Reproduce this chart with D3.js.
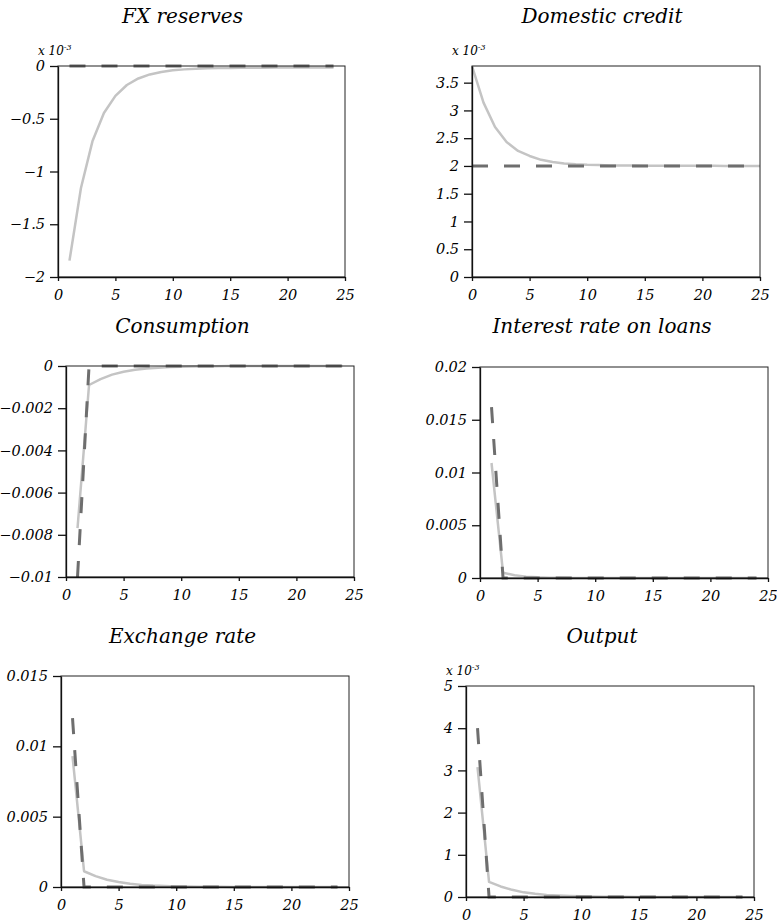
<!DOCTYPE html>
<html>
<head>
<meta charset="utf-8">
<script src="https://cdn.jsdelivr.net/npm/d3@7"></script>
<style>
  body { margin: 0; background: #fff; }
  svg { display: block; font-family: "DejaVu Serif", serif; font-style: italic; }
</style>
</head>
<body>
<div id="chart-area"></div>
<script>
// impulse responses, x = periods after shock
var periods   = [1,2,3,4,5,6,7,8,9,10,11,12,13,14,15,16,17,18,19,20,21,22,23,24];
var periodsDC = [0,1,2,3,4,5,6,7,8,9,10,11,12,13,14,15,16,17,18,19,20,21,22,23,24,25];
var xTicks = [0,5,10,15,20,25];

// FX reserves (x 10^-3)
var fxSolid  = [-1.845,-1.156,-0.714,-0.446,-0.283,-0.180,-0.118,-0.080,-0.056,-0.041,-0.032,-0.026,-0.022,-0.020,-0.018,-0.017,-0.016,-0.016,-0.015,-0.015,-0.015,-0.015,-0.015,-0.015];
var fxDashed = [0,0,0,0,0,0,0,0,0,0,0,0,0,0,0,0,0,0,0,0,0,0,0,0];
var fxTicks  = [0,-0.5,-1,-1.5,-2];

// Domestic credit (x 10^-3)
var dcSolid  = [3.80,3.14,2.70,2.43,2.27,2.18,2.11,2.07,2.045,2.03,2.02,2.015,2.01,2.008,2.006,2.005,2.004,2.003,2.003,2.002,2.002,2.002,2.001,2.001,2.001,2.001];
var dcDashed = [2,2,2,2,2,2,2,2,2,2,2,2,2,2,2,2,2,2,2,2,2,2,2,2,2,2];
var dcTicks  = [0,0.5,1,1.5,2,2.5,3,3.5];

// Consumption
var consSolid  = [-0.00768,-0.00090,-0.00062,-0.00041,-0.00027,-0.00018,-0.00012,-0.00008,-0.00005,-0.00003,-0.00002,-0.00001,-0.00001,0,0,0,0,0,0,0,0,0,0,0];
var consDashed = [-0.0100,0,0,0,0,0,0,0,0,0,0,0,0,0,0,0,0,0,0,0,0,0,0,0];
var consTicks  = [0,-0.002,-0.004,-0.006,-0.008,-0.01];

// Interest rate on loans
var rateSolid  = [0.0109,0.0005,0.00026,0.00013,0.00006,0.00003,0.00002,0.00001,0,0,0,0,0,0,0,0,0,0,0,0,0,0,0,0];
var rateDashed = [0.0162,0,0,0,0,0,0,0,0,0,0,0,0,0,0,0,0,0,0,0,0,0,0,0];
var rateTicks  = [0,0.005,0.01,0.015,0.02];

// Exchange rate
var exSolid  = [0.0093,0.00112,0.00077,0.00052,0.00035,0.00023,0.00015,0.0001,0.00007,0.00004,0.00003,0.00002,0.00001,0.00001,0,0,0,0,0,0,0,0,0,0];
var exDashed = [0.0120,0,0,0,0,0,0,0,0,0,0,0,0,0,0,0,0,0,0,0,0,0,0,0];
var exTicks  = [0,0.005,0.01,0.015];

// Output (x 10^-3)
var outSolid  = [3.08,0.36,0.25,0.17,0.11,0.075,0.05,0.033,0.022,0.015,0.01,0.007,0.005,0.003,0.002,0.001,0.001,0,0,0,0,0,0,0];
var outDashed = [4.0,0,0,0,0,0,0,0,0,0,0,0,0,0,0,0,0,0,0,0,0,0,0,0];
var outTicks  = [0,1,2,3,4,5];

var panels = [
  {title:"FX reserves", left:58, top:66, w:287, h:211, tx:182.5, ty:23, xs:periods, solid:fxSolid, dashed:fxDashed, domain:[-2,0], ticks:fxTicks, mult:true},
  {title:"Domestic credit", left:472, top:66, w:288, h:211, tx:602, ty:23, xs:periodsDC, solid:dcSolid, dashed:dcDashed, domain:[0,3.8], ticks:dcTicks, mult:true},
  {title:"Consumption", left:66, top:366, w:288, h:211, tx:182.5, ty:333, xs:periods, solid:consSolid, dashed:consDashed, domain:[-0.01,0], ticks:consTicks, mult:false},
  {title:"Interest rate on loans", left:480, top:367, w:288, h:211, tx:602, ty:333, xs:periods, solid:rateSolid, dashed:rateDashed, domain:[0,0.02], ticks:rateTicks, mult:false},
  {title:"Exchange rate", left:61, top:676, w:288, h:211, tx:182.5, ty:643, xs:periods, solid:exSolid, dashed:exDashed, domain:[0,0.015], ticks:exTicks, mult:false},
  {title:"Output", left:466, top:686, w:288, h:211, tx:602, ty:643, xs:periods, solid:outSolid, dashed:outDashed, domain:[0,5], ticks:outTicks, mult:true}
];

var svg = d3.select("#chart-area").append("svg")
  .attr("width", 777)
  .attr("height", 922);

svg.append("rect").attr("width", 777).attr("height", 922).attr("fill", "#fff");

var fmt = function(d){ return String(d).replace("-", "\u2212"); };

panels.forEach(function(p, i){
  var x = d3.scaleLinear().domain([0,25]).range([0,p.w]);
  var y = d3.scaleLinear().domain(p.domain).range([p.h,0]);

  svg.append("text")
    .attr("x", p.tx)
    .attr("y", p.ty)
    .attr("text-anchor", "middle")
    .attr("font-size", "20px")
    .attr("fill", "#000")
    .text(p.title);

  var g = svg.append("g")
    .attr("transform", "translate(" + p.left + "," + p.top + ")");

  g.append("clipPath").attr("id", "clip" + i)
    .append("rect").attr("x", -1).attr("y", -2).attr("width", p.w + 2).attr("height", p.h + 4);

  var line = d3.line()
    .x(function(d){ return x(d[0]); })
    .y(function(d){ return y(d[1]); });

  var solidPts = p.xs.map(function(v, k){ return [v, p.solid[k]]; });
  var dashPts  = p.xs.map(function(v, k){ return [v, p.dashed[k]]; });

  g.append("path")
    .attr("clip-path", "url(#clip" + i + ")")
    .attr("d", line(solidPts))
    .attr("fill", "none")
    .attr("stroke", "#c4c4c4")
    .attr("stroke-width", 2.5)
    .attr("stroke-linejoin", "round");

  g.append("path")
    .attr("clip-path", "url(#clip" + i + ")")
    .attr("d", line(dashPts))
    .attr("fill", "none")
    .attr("stroke", "#6e6e6e")
    .attr("stroke-width", 3)
    .attr("stroke-dasharray", "16,16");

  // frame
  g.append("rect")
    .attr("width", p.w)
    .attr("height", p.h)
    .attr("fill", "none")
    .attr("stroke", "#222")
    .attr("stroke-width", 1);

  var bottomAxis = d3.axisBottom(x)
    .tickValues(xTicks)
    .tickSize(4)
    .tickSizeOuter(0)
    .tickPadding(9);
  g.append("g")
    .attr("class", "bottom axis")
    .attr("transform", "translate(0," + p.h + ")")
    .call(bottomAxis);

  var leftAxis = d3.axisLeft(y)
    .tickValues(p.ticks)
    .tickFormat(fmt)
    .tickSize(8)
    .tickSizeOuter(0)
    .tickPadding(5);
  g.append("g")
    .attr("class", "left axis")
    .call(leftAxis);

  g.selectAll(".axis text")
    .attr("font-family", "DejaVu Serif")
    .attr("font-style", "italic")
    .attr("font-size", "14.5px")
    .attr("fill", "#000");
  g.selectAll(".axis line, .axis path")
    .attr("stroke", "#111")
    .attr("stroke-width", 1.3);

  if (p.mult) {
    var t = svg.append("text")
      .attr("x", p.left - 20)
      .attr("y", p.top - 11)
      .attr("font-size", "12px")
      .attr("fill", "#000");
    t.append("tspan").text("x 10");
    t.append("tspan").attr("font-size", "8px").attr("dy", -5).text("-3");
  }
});
</script>
</body>
</html>
